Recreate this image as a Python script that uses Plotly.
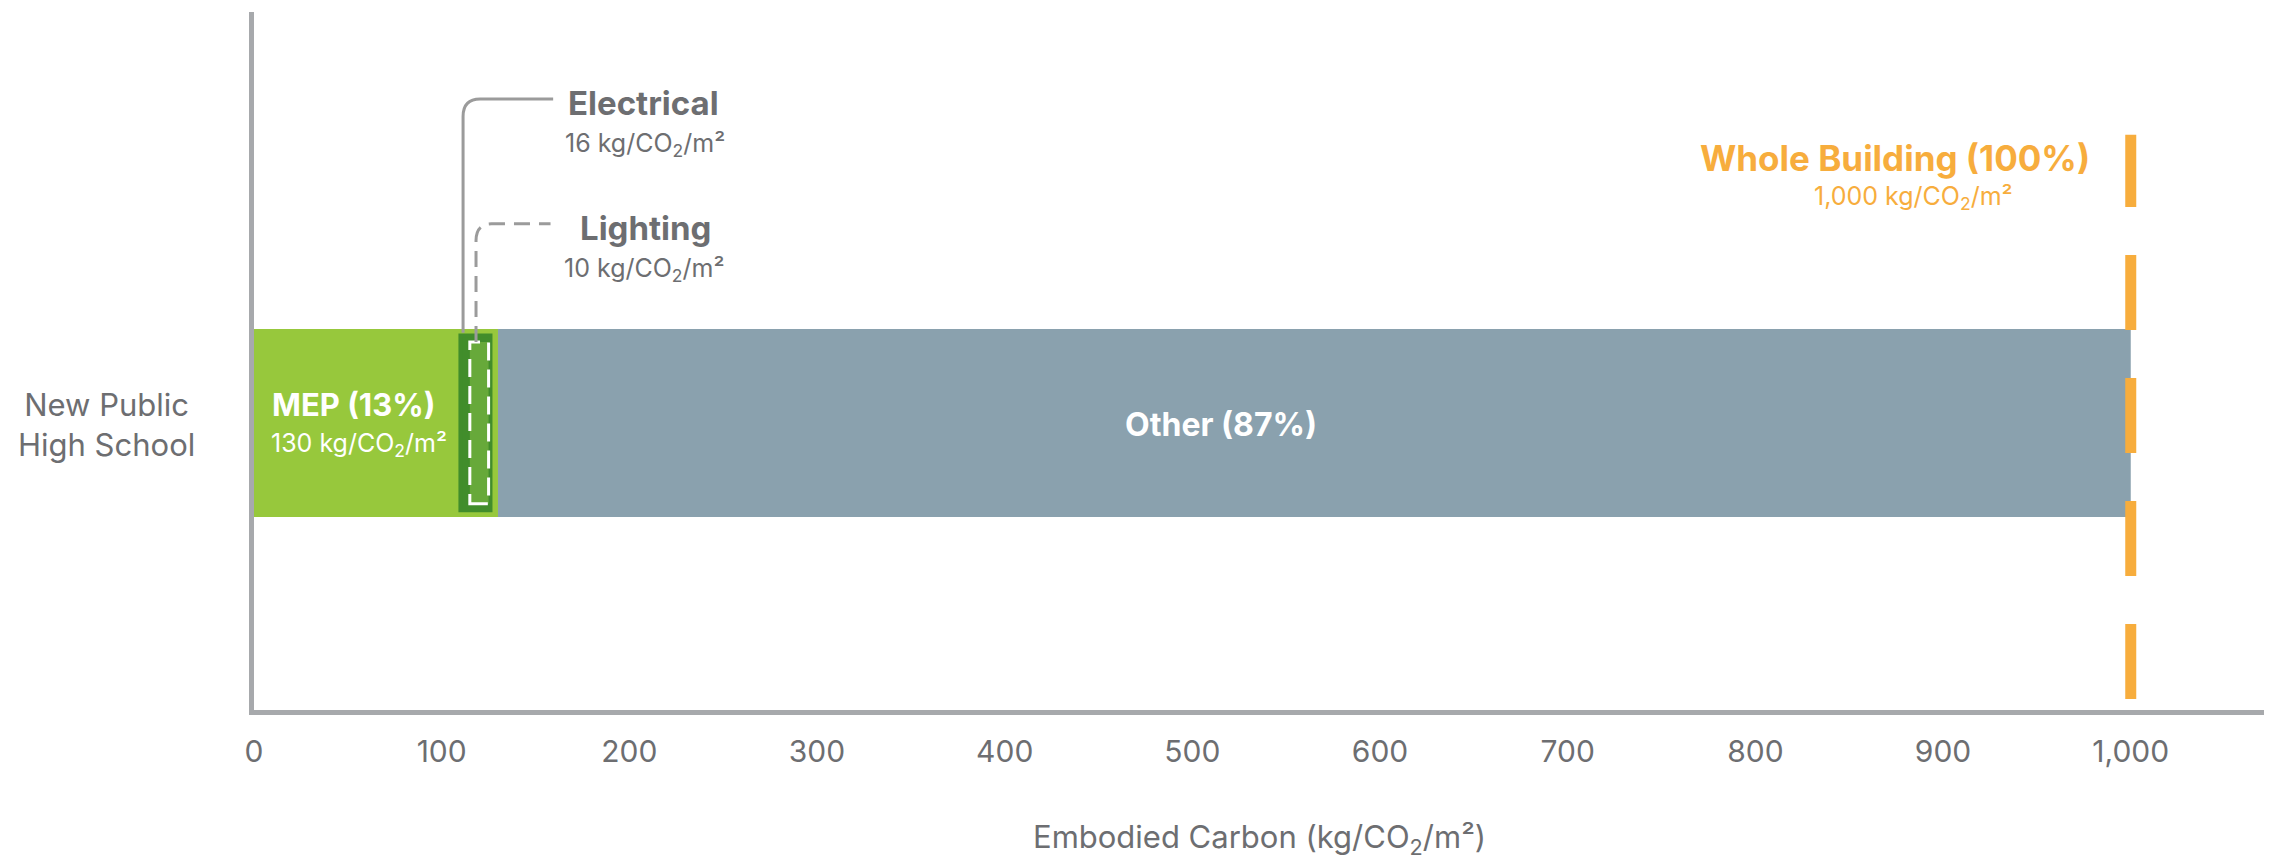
import plotly.graph_objects as go

# ---- data ----
category = ["New Public High School"]
mep_value = [130]
other_value = [870]
electrical_start = [110]
electrical_value = [16]
lighting_start = [115]
lighting_value = [10]
whole_building = 1000
x_ticks = [0, 100, 200, 300, 400, 500, 600, 700, 800, 900, 1000]

GRAY_TXT = "#6d6e71"
AXIS = "#a7a9ac"
FONT = "Inter"

fig = go.Figure()
y0 = [0]
fig.add_trace(go.Bar(y=y0, x=mep_value, base=[0], orientation="h", width=1,
                     marker=dict(color="#97c83c", line=dict(width=0)), hoverinfo="skip"))
fig.add_trace(go.Bar(y=y0, x=other_value, base=mep_value, orientation="h", width=1,
                     marker=dict(color="#8aa1ae", line=dict(width=0)), hoverinfo="skip"))
fig.add_trace(go.Bar(y=y0, x=electrical_value, base=electrical_start, orientation="h", width=0.93,
                     marker=dict(color="#418d2b", line=dict(width=4, color="#418d2b")), hoverinfo="skip"))
fig.add_trace(go.Bar(y=y0, x=lighting_value, base=lighting_start, orientation="h", width=0.86,
                     marker=dict(color="#67a93a", line=dict(width=0)), hoverinfo="skip"))

shapes = []
# lighting dashed outline
shapes.append(dict(type="rect", xref="x", yref="y",
                   x0=lighting_start[0], x1=lighting_start[0] + lighting_value[0],
                   y0=-0.43, y1=0.43,
                   line=dict(color="white", width=3, dash="18px,9px")))
# electrical leader (solid, rounded corner)
shapes.append(dict(type="path", xref="x", yref="y",
                   path="M 111.4,0.48 L 111.4,1.63 Q 111.4,1.723 120.5,1.723 L 159.4,1.723",
                   line=dict(color="#9b9b9b", width=3)))
# lighting leader (dashed, rounded corner)
shapes.append(dict(type="path", xref="x", yref="y",
                   path="M 118.3,0.43 L 118.3,0.97 Q 118.3,1.059 126.5,1.059 L 158,1.059",
                   line=dict(color="#9b9b9b", width=3, dash="16px,9px")))
# whole building dashed line
shapes.append(dict(type="line", xref="x", yref="paper",
                   x0=whole_building, x1=whole_building, y0=0.0158, y1=0.824,
                   line=dict(color="#f7ad3d", width=11, dash="75px,48px")))

ann = []
def A(text, x, y, size, color, bold=False, xanchor="center", xref="x", yref="y", align="center"):
    if bold:
        text = "<b>" + text + "</b>"
    ann.append(dict(text=text, x=x, y=y, xref=xref, yref=yref, xanchor=xanchor,
                    yanchor="middle", showarrow=False, align=align,
                    font=dict(family=FONT, size=size, color=color)))

unit = " kg/CO<sub>2</sub>/m²"
A("Electrical", 207.4, 1.70, 33, GRAY_TXT, bold=True)
A(f"{electrical_value[0]}" + unit, 208.5, 1.48, 25, GRAY_TXT)
A("Lighting", 208.5, 1.035, 33, GRAY_TXT, bold=True)
A(f"{lighting_value[0]}" + unit, 207.9, 0.815, 25, GRAY_TXT)
A("Whole Building (100%)", 874.2, 1.41, 35, "#f7ad3d", bold=True)
A(f"{whole_building:,}" + unit, 884.4, 1.20, 25, "#f7ad3d")
A(f"MEP ({round(100*mep_value[0]/whole_building)}%)", 8.5, 0.10, 31, "white", bold=True, xanchor="left")
A(f"{mep_value[0]}" + unit, 8.0, -0.115, 25, "white", xanchor="left")
A(f"Other ({round(100*other_value[0]/whole_building)}%)", 515.5, -0.01, 32, "white", bold=True)
A("New Public<br>High School", -0.0736, -0.01, 31, GRAY_TXT, xref="paper")
A("Embodied Carbon (kg/CO<sub>2</sub>/m²)", 0.5, -0.185, 31, GRAY_TXT, xref="paper", yref="paper")

# page body has an 8px default margin, so the figure is 8px smaller and shifted
fig.update_layout(
    width=2267, height=851,
    margin=dict(l=246, r=11, t=4, b=149),
    plot_bgcolor="white", paper_bgcolor="white",
    barmode="overlay", showlegend=False,
    shapes=shapes, annotations=ann,
    font=dict(family=FONT, color=GRAY_TXT),
    xaxis=dict(range=[0, 1071], tickvals=x_ticks, tickformat=",",
               showline=True, linewidth=5, linecolor=AXIS, showgrid=False, zeroline=False,
               ticks="outside", ticklen=11, tickcolor="rgba(0,0,0,0)",
               tickfont=dict(family=FONT, size=30, color=GRAY_TXT)),
    yaxis=dict(range=[-1.527, 2.186], showline=True, linewidth=5, linecolor=AXIS,
               showgrid=False, zeroline=False, showticklabels=False, ticks=""),
)

fig.write_html("out.html")
